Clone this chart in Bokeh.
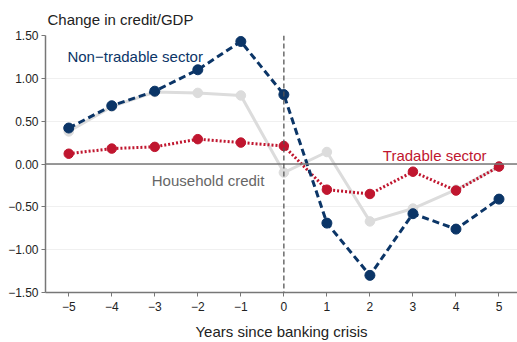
from bokeh.plotting import figure
from bokeh.models import Label, Span, FixedTicker
from bokeh.embed import file_html
from bokeh.resources import INLINE

years = [-5, -4, -3, -2, -1, 0, 1, 2, 3, 4, 5]
non_tradable = [0.42, 0.68, 0.85, 1.10, 1.43, 0.81, -0.69, -1.30, -0.58, -0.76, -0.41]
tradable = [0.12, 0.18, 0.20, 0.29, 0.25, 0.21, -0.30, -0.35, -0.09, -0.31, -0.03]
household = [0.38, 0.67, 0.84, 0.83, 0.80, -0.10, 0.14, -0.67, -0.52, -0.30, -0.03]
y_ticks = [-1.5, -1.0, -0.5, 0.0, 0.5, 1.0, 1.5]

NAVY = "#0b3567"
RED = "#c0162f"
GREY = "#dcdcdc"
FONT = "Liberation Sans"

p = figure(width=517, height=342, output_backend="svg", toolbar_location=None,
           x_range=(-5.54, 5.43), y_range=(-1.5, 1.5),
           title="Change in credit/GDP",
           min_border_left=45, min_border_right=0, min_border_top=35, min_border_bottom=46)
p.outline_line_color = None
p.background_fill_color = "white"
p.title.text_font = FONT
p.title.text_font_size = "15px"
p.title.text_font_style = "normal"
p.title.text_color = "#222222"
p.title.align = "left"
p.title.vertical_align = "top"
p.title.offset = 2
p.title.standoff = 12

def fmt(v, d):
    s = f"{abs(v):.{d}f}"
    return ("\u2212" + s) if v < 0 else s

p.yaxis.ticker = FixedTicker(ticks=y_ticks)
p.yaxis.major_label_overrides = {v: fmt(v, 2) for v in y_ticks}
p.xaxis.ticker = FixedTicker(ticks=years)
p.xaxis.major_label_overrides = {v: fmt(v, 0) for v in years}

for ax in (p.xaxis, p.yaxis):
    ax.axis_line_color = "#777777"
    ax.axis_line_width = 1.5
    ax.major_tick_line_color = "#777777"
    ax.minor_tick_line_color = None
    ax.major_tick_in = 0
    ax.major_tick_out = 4
    ax.major_label_text_font = FONT
    ax.major_label_text_font_size = "12px"
    ax.major_label_text_color = "#222222"

p.xaxis.axis_label = "Years since banking crisis"
p.xaxis.axis_label_text_font = FONT
p.xaxis.axis_label_text_font_size = "15px"
p.xaxis.axis_label_text_font_style = "normal"
p.xaxis.axis_label_text_color = "#222222"
p.xaxis.axis_label_standoff = 9
p.yaxis.major_label_standoff = 3

p.xgrid.grid_line_color = None
p.ygrid.grid_line_color = "#f0f0f0"
p.ygrid.grid_line_width = 1

p.add_layout(Span(location=0, dimension="width", line_color="#777777", line_width=1.5))
p.add_layout(Span(location=0, dimension="height", line_color="#555555", line_width=1.3,
                  line_dash="5 3"))

p.line(years, household, line_color=GREY, line_width=3)
p.scatter(years, household, size=9.5, fill_color=GREY, line_color=GREY)

p.line(years, tradable, line_color=RED, line_width=3, line_dash="2 2")
p.scatter(years, tradable, size=9.5, fill_color=RED, line_color=RED)

p.line(years, non_tradable, line_color=NAVY, line_width=3, line_dash="7 4")
p.scatter(years, non_tradable, size=10, fill_color=NAVY, line_color=NAVY)

p.add_layout(Label(x=-5.03, y=1.25, text="Non\u2212tradable sector", text_color=NAVY,
                   text_font=FONT, text_font_size="15px", text_baseline="middle"))
p.add_layout(Label(x=2.3, y=0.1, text="Tradable sector", text_color=RED,
                   text_font=FONT, text_font_size="15px", text_baseline="middle"))
p.add_layout(Label(x=-3.07, y=-0.19, text="Household credit", text_color="#666666",
                   text_font=FONT, text_font_size="15px", text_baseline="middle"))

open("out.html", "w").write(file_html(p, INLINE))
